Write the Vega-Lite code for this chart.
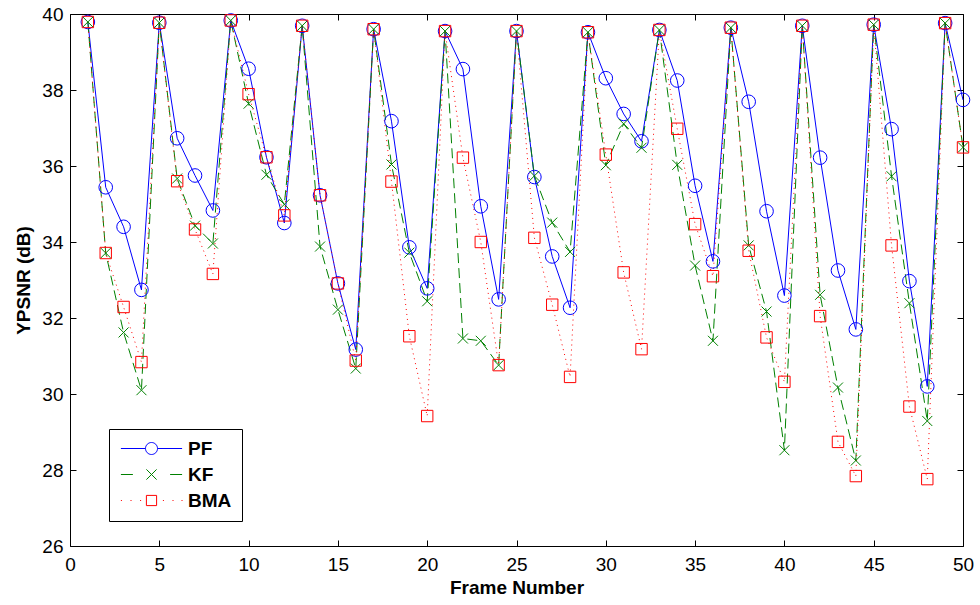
{
  "$schema": "https://vega.github.io/schema/vega-lite/v6.json",
  "width": 893,
  "height": 532,
  "autosize": {"type": "none"},
  "padding": {"left": 70, "top": 14, "right": 17, "bottom": 59},
  "background": "white",
  "data": {
    "values": [
      {"frame": 1, "method": "PF", "value": 39.79}, {"frame": 1, "method": "KF", "value": 39.79}, {"frame": 1, "method": "BMA", "value": 39.79},
      {"frame": 2, "method": "PF", "value": 35.44}, {"frame": 2, "method": "KF", "value": 33.71}, {"frame": 2, "method": "BMA", "value": 33.71},
      {"frame": 3, "method": "PF", "value": 34.40}, {"frame": 3, "method": "KF", "value": 31.62}, {"frame": 3, "method": "BMA", "value": 32.29},
      {"frame": 4, "method": "PF", "value": 32.74}, {"frame": 4, "method": "KF", "value": 30.10}, {"frame": 4, "method": "BMA", "value": 30.84},
      {"frame": 5, "method": "PF", "value": 39.77}, {"frame": 5, "method": "KF", "value": 39.77}, {"frame": 5, "method": "BMA", "value": 39.77},
      {"frame": 6, "method": "PF", "value": 36.73}, {"frame": 6, "method": "KF", "value": 35.67}, {"frame": 6, "method": "BMA", "value": 35.60},
      {"frame": 7, "method": "PF", "value": 35.75}, {"frame": 7, "method": "KF", "value": 34.43}, {"frame": 7, "method": "BMA", "value": 34.33},
      {"frame": 8, "method": "PF", "value": 34.83}, {"frame": 8, "method": "KF", "value": 33.96}, {"frame": 8, "method": "BMA", "value": 33.16},
      {"frame": 9, "method": "PF", "value": 39.83}, {"frame": 9, "method": "KF", "value": 39.83}, {"frame": 9, "method": "BMA", "value": 39.83},
      {"frame": 10, "method": "PF", "value": 38.56}, {"frame": 10, "method": "KF", "value": 37.64}, {"frame": 10, "method": "BMA", "value": 37.89},
      {"frame": 11, "method": "PF", "value": 36.23}, {"frame": 11, "method": "KF", "value": 35.77}, {"frame": 11, "method": "BMA", "value": 36.23},
      {"frame": 12, "method": "PF", "value": 34.50}, {"frame": 12, "method": "KF", "value": 34.99}, {"frame": 12, "method": "BMA", "value": 34.70},
      {"frame": 13, "method": "PF", "value": 39.69}, {"frame": 13, "method": "KF", "value": 39.69}, {"frame": 13, "method": "BMA", "value": 39.69},
      {"frame": 14, "method": "PF", "value": 35.23}, {"frame": 14, "method": "KF", "value": 33.88}, {"frame": 14, "method": "BMA", "value": 35.23},
      {"frame": 15, "method": "PF", "value": 32.91}, {"frame": 15, "method": "KF", "value": 32.22}, {"frame": 15, "method": "BMA", "value": 32.91},
      {"frame": 16, "method": "PF", "value": 31.17}, {"frame": 16, "method": "KF", "value": 30.67}, {"frame": 16, "method": "BMA", "value": 30.88},
      {"frame": 17, "method": "PF", "value": 39.60}, {"frame": 17, "method": "KF", "value": 39.60}, {"frame": 17, "method": "BMA", "value": 39.60},
      {"frame": 18, "method": "PF", "value": 37.18}, {"frame": 18, "method": "KF", "value": 36.04}, {"frame": 18, "method": "BMA", "value": 35.59},
      {"frame": 19, "method": "PF", "value": 33.86}, {"frame": 19, "method": "KF", "value": 33.72}, {"frame": 19, "method": "BMA", "value": 31.52},
      {"frame": 20, "method": "PF", "value": 32.78}, {"frame": 20, "method": "KF", "value": 32.44}, {"frame": 20, "method": "BMA", "value": 29.42},
      {"frame": 21, "method": "PF", "value": 39.55}, {"frame": 21, "method": "KF", "value": 39.55}, {"frame": 21, "method": "BMA", "value": 39.55},
      {"frame": 22, "method": "PF", "value": 38.55}, {"frame": 22, "method": "KF", "value": 31.46}, {"frame": 22, "method": "BMA", "value": 36.22},
      {"frame": 23, "method": "PF", "value": 34.94}, {"frame": 23, "method": "KF", "value": 31.40}, {"frame": 23, "method": "BMA", "value": 34.00},
      {"frame": 24, "method": "PF", "value": 32.49}, {"frame": 24, "method": "KF", "value": 30.76}, {"frame": 24, "method": "BMA", "value": 30.76},
      {"frame": 25, "method": "PF", "value": 39.55}, {"frame": 25, "method": "KF", "value": 39.55}, {"frame": 25, "method": "BMA", "value": 39.55},
      {"frame": 26, "method": "PF", "value": 35.71}, {"frame": 26, "method": "KF", "value": 35.74}, {"frame": 26, "method": "BMA", "value": 34.11},
      {"frame": 27, "method": "PF", "value": 33.62}, {"frame": 27, "method": "KF", "value": 34.51}, {"frame": 27, "method": "BMA", "value": 32.35},
      {"frame": 28, "method": "PF", "value": 32.27}, {"frame": 28, "method": "KF", "value": 33.74}, {"frame": 28, "method": "BMA", "value": 30.45},
      {"frame": 29, "method": "PF", "value": 39.52}, {"frame": 29, "method": "KF", "value": 39.52}, {"frame": 29, "method": "BMA", "value": 39.52},
      {"frame": 30, "method": "PF", "value": 38.31}, {"frame": 30, "method": "KF", "value": 36.02}, {"frame": 30, "method": "BMA", "value": 36.30},
      {"frame": 31, "method": "PF", "value": 37.37}, {"frame": 31, "method": "KF", "value": 37.11}, {"frame": 31, "method": "BMA", "value": 33.20},
      {"frame": 32, "method": "PF", "value": 36.65}, {"frame": 32, "method": "KF", "value": 36.48}, {"frame": 32, "method": "BMA", "value": 31.18},
      {"frame": 33, "method": "PF", "value": 39.58}, {"frame": 33, "method": "KF", "value": 39.58}, {"frame": 33, "method": "BMA", "value": 39.58},
      {"frame": 34, "method": "PF", "value": 38.25}, {"frame": 34, "method": "KF", "value": 36.03}, {"frame": 34, "method": "BMA", "value": 36.98},
      {"frame": 35, "method": "PF", "value": 35.48}, {"frame": 35, "method": "KF", "value": 33.38}, {"frame": 35, "method": "BMA", "value": 34.47},
      {"frame": 36, "method": "PF", "value": 33.49}, {"frame": 36, "method": "KF", "value": 31.40}, {"frame": 36, "method": "BMA", "value": 33.10},
      {"frame": 37, "method": "PF", "value": 39.64}, {"frame": 37, "method": "KF", "value": 39.64}, {"frame": 37, "method": "BMA", "value": 39.64},
      {"frame": 38, "method": "PF", "value": 37.69}, {"frame": 38, "method": "KF", "value": 33.91}, {"frame": 38, "method": "BMA", "value": 33.77},
      {"frame": 39, "method": "PF", "value": 34.81}, {"frame": 39, "method": "KF", "value": 32.17}, {"frame": 39, "method": "BMA", "value": 31.49},
      {"frame": 40, "method": "PF", "value": 32.59}, {"frame": 40, "method": "KF", "value": 28.52}, {"frame": 40, "method": "BMA", "value": 30.32},
      {"frame": 41, "method": "PF", "value": 39.69}, {"frame": 41, "method": "KF", "value": 39.69}, {"frame": 41, "method": "BMA", "value": 39.69},
      {"frame": 42, "method": "PF", "value": 36.22}, {"frame": 42, "method": "KF", "value": 32.61}, {"frame": 42, "method": "BMA", "value": 32.05},
      {"frame": 43, "method": "PF", "value": 33.25}, {"frame": 43, "method": "KF", "value": 30.17}, {"frame": 43, "method": "BMA", "value": 28.74},
      {"frame": 44, "method": "PF", "value": 31.70}, {"frame": 44, "method": "KF", "value": 28.25}, {"frame": 44, "method": "BMA", "value": 27.84},
      {"frame": 45, "method": "PF", "value": 39.72}, {"frame": 45, "method": "KF", "value": 39.72}, {"frame": 45, "method": "BMA", "value": 39.72},
      {"frame": 46, "method": "PF", "value": 36.97}, {"frame": 46, "method": "KF", "value": 35.73}, {"frame": 46, "method": "BMA", "value": 33.91},
      {"frame": 47, "method": "PF", "value": 32.97}, {"frame": 47, "method": "KF", "value": 32.39}, {"frame": 47, "method": "BMA", "value": 29.67},
      {"frame": 48, "method": "PF", "value": 30.20}, {"frame": 48, "method": "KF", "value": 29.29}, {"frame": 48, "method": "BMA", "value": 27.76},
      {"frame": 49, "method": "PF", "value": 39.76}, {"frame": 49, "method": "KF", "value": 39.76}, {"frame": 49, "method": "BMA", "value": 39.76},
      {"frame": 50, "method": "PF", "value": 37.74}, {"frame": 50, "method": "KF", "value": 36.49}, {"frame": 50, "method": "BMA", "value": 36.49}
    ]
  },
  "resolve": {"axis": {"x": "independent", "y": "independent"}},
  "layer": [
    {
      "transform": [{"filter": "datum.method === 'PF'"}],
      "mark": {"type": "line", "color": "#0000ff", "strokeWidth": 1},
      "encoding": {
        "x": {"field": "frame", "type": "quantitative", "scale": {"domain": [0, 50], "nice": false, "zero": false},
              "axis": {"orient": "bottom", "values": [0, 5, 10, 15, 20, 25, 30, 35, 40, 45, 50], "title": "Frame Number", "titlePadding": 4, "labelPadding": 15}},
        "y": {"field": "value", "type": "quantitative", "scale": {"domain": [26, 40], "nice": false, "zero": false},
              "axis": {"orient": "left", "values": [26, 28, 30, 32, 34, 36, 38, 40], "title": "YPSNR (dB)", "titlePadding": 8, "labelPadding": 13}}
      }
    },
    {
      "transform": [{"filter": "datum.method === 'KF'"}],
      "mark": {"type": "line", "color": "#008000", "strokeWidth": 1, "strokeDash": [10, 5]},
      "encoding": {
        "x": {"field": "frame", "type": "quantitative", "axis": null},
        "y": {"field": "value", "type": "quantitative", "axis": null}
      }
    },
    {
      "transform": [{"filter": "datum.method === 'BMA'"}],
      "mark": {"type": "line", "color": "#ff0000", "strokeWidth": 1, "strokeDash": [1, 4]},
      "encoding": {
        "x": {"field": "frame", "type": "quantitative", "axis": null},
        "y": {"field": "value", "type": "quantitative", "axis": null}
      }
    },
    {
      "transform": [{"filter": "datum.method === 'PF'"}],
      "mark": {"type": "point", "shape": "circle", "filled": false, "color": "#0000ff", "strokeWidth": 1, "size": 185, "opacity": 1},
      "encoding": {
        "x": {"field": "frame", "type": "quantitative", "axis": null},
        "y": {"field": "value", "type": "quantitative", "axis": null}
      }
    },
    {
      "transform": [{"filter": "datum.method === 'KF'"}],
      "mark": {"type": "point", "shape": "M-1,-1L1,1M-1,1L1,-1", "filled": false, "color": "#008000", "strokeWidth": 1, "size": 100, "opacity": 1},
      "encoding": {
        "x": {"field": "frame", "type": "quantitative", "axis": null},
        "y": {"field": "value", "type": "quantitative", "axis": null}
      }
    },
    {
      "transform": [{"filter": "datum.method === 'BMA'"}],
      "mark": {"type": "point", "shape": "square", "filled": false, "color": "#ff0000", "strokeWidth": 1, "size": 130, "opacity": 1},
      "encoding": {
        "x": {"field": "frame", "type": "quantitative", "axis": null},
        "y": {"field": "value", "type": "quantitative", "axis": null}
      }
    },
    {
      "transform": [{"filter": "false"}],
      "mark": {"type": "point", "filled": false, "strokeWidth": 1, "opacity": 1},
      "encoding": {
        "x": {"field": "frame", "type": "quantitative",
              "axis": {"orient": "top", "values": [0, 5, 10, 15, 20, 25, 30, 35, 40, 45, 50], "labels": false, "title": null}},
        "y": {"field": "value", "type": "quantitative",
              "axis": {"orient": "right", "values": [26, 28, 30, 32, 34, 36, 38, 40], "labels": false, "title": null}},
        "color": {
          "field": "method", "type": "nominal",
          "scale": {"domain": ["PF", "KF", "BMA"], "range": ["#0000ff", "#008000", "#ff0000"]},
          "legend": {"title": null, "orient": "none", "legendX": 39, "legendY": 415}
        },
        "shape": {
          "field": "method", "type": "nominal",
          "scale": {"domain": ["PF", "KF", "BMA"], "range": [
            "M-5.1,0L-1,0M1,0L5.1,0M1,0A1,1,0,1,1,-1,0A1,1,0,1,1,1,0",
            "M-5.1,0L-3.1,0M3.1,0L5.1,0M-0.85,-0.85L0.85,0.85M-0.85,0.85L0.85,-0.85",
            "M-5.1,0h0.17M-3.5,0h0.17M-1.9,0h0.17M1.9,0h0.17M3.5,0h0.17M5.0,0h0.17M-0.85,-0.85h1.7v1.7h-1.7Z"
          ]},
          "legend": {"title": null, "orient": "none", "legendX": 39, "legendY": 415}
        }
      }
    }
  ],
  "config": {
    "font": "Liberation Sans",
    "view": {"stroke": "black", "strokeWidth": 1},
    "axis": {
      "grid": false,
      "domain": false,
      "ticks": true,
      "tickColor": "black",
      "tickSize": -6,
      "tickWidth": 1,
      "labelFlush": false,
      "labelFont": "Liberation Sans",
      "labelFontSize": 19,
      "labelColor": "black",
      "titleFont": "Liberation Sans",
      "titleFontSize": 19,
      "titleFontWeight": "bold",
      "titleColor": "black"
    },
    "legend": {
      "padding": 10,
      "strokeColor": "black",
      "fillColor": "white",
      "symbolSize": 144,
      "symbolStrokeWidth": 1,
      "symbolOpacity": 1,
      "symbolOffset": 23,
      "labelOffset": 27,
      "rowPadding": 6,
      "labelFont": "Liberation Sans",
      "labelFontSize": 19,
      "labelFontWeight": "bold",
      "labelColor": "black"
    }
  }
}
